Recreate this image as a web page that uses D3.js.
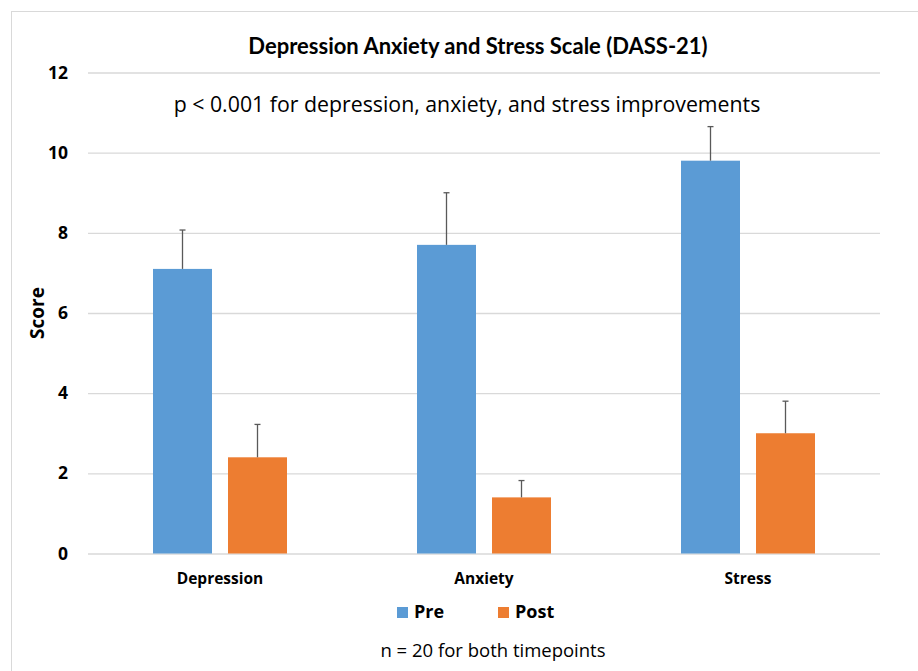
<!DOCTYPE html>
<html><head><meta charset="utf-8">
<script src="https://cdn.jsdelivr.net/npm/d3@7"></script>
<style>body{margin:0;background:#fff}svg{display:block}</style>
</head><body><svg id="c" width="918" height="671"></svg>
<script>
const categories = ["Depression", "Anxiety", "Stress"];
const seriesNames = ["Pre", "Post"];
const preValues = [7.1, 7.7, 9.8];
const postValues = [2.4, 1.4, 3.0];
const preErrors = [0.97, 1.3, 0.85];
const postErrors = [0.82, 0.42, 0.8];
const yTicks = [0, 2, 4, 6, 8, 10, 12];
const colors = ["#5B9BD5", "#ED7D31"];

const svg = d3.select("#c");
svg.append("rect").attr("x", 11.5).attr("y", 11.5).attr("width", 930).attr("height", 700)
  .attr("fill", "#fff").attr("stroke", "#d9d9d9");

const m = {l: 88, r: 880, t: 72.5, b: 553.5};
const y = d3.scaleLinear().domain([0, 12]).range([m.b, m.t]);
const x0 = d3.scaleBand().domain(categories).range([m.l, m.r]).paddingInner(0).paddingOuter(0);
const x1 = d3.scaleBand().domain(seriesNames).range([65, 264 - 65]).paddingInner(16/75);

const yAxis = d3.axisLeft(y).tickValues(yTicks).tickSize(-(m.r - m.l)).tickFormat(d3.format("d")).tickPadding(20);
const ga = svg.append("g").attr("transform", `translate(${m.l},0)`).call(yAxis);
ga.select(".domain").remove();
ga.selectAll(".tick line").attr("stroke", "#d9d9d9").attr("stroke-width", 1.3);
ga.selectAll(".tick text").attr("font-family", "'Open Sans', sans-serif").attr("font-weight", "bold")
  .attr("font-size", 17.5).attr("fill", "#000");

const data = categories.map((c, i) => ({c, vals: [
  {s: "Pre", v: preValues[i], e: preErrors[i]},
  {s: "Post", v: postValues[i], e: postErrors[i]}]}));

const g = svg.selectAll(".cat").data(data).join("g").attr("transform", d => `translate(${x0(d.c)},0)`);
g.selectAll("rect").data(d => d.vals).join("rect")
  .attr("x", d => x1(d.s)).attr("width", x1.bandwidth())
  .attr("y", d => y(d.v)).attr("height", d => y(0) - y(d.v))
  .attr("fill", (d, i) => colors[i]);
g.selectAll("line.err").data(d => d.vals).join("line").attr("class", "err")
  .attr("x1", d => x1(d.s) + x1.bandwidth()/2).attr("x2", d => x1(d.s) + x1.bandwidth()/2)
  .attr("y1", d => y(d.v)).attr("y2", d => y(d.v + d.e))
  .attr("stroke", "#595959").attr("stroke-width", 1.3);
g.selectAll("line.cap").data(d => d.vals).join("line").attr("class", "cap")
  .attr("x1", d => x1(d.s) + x1.bandwidth()/2 - 3).attr("x2", d => x1(d.s) + x1.bandwidth()/2 + 3)
  .attr("y1", d => y(d.v + d.e)).attr("y2", d => y(d.v + d.e))
  .attr("stroke", "#595959").attr("stroke-width", 1.3);

svg.selectAll(".xl").data(categories).join("text")
  .attr("x", d => x0(d) + x0.bandwidth()/2).attr("y", 584)
  .attr("text-anchor", "middle").attr("font-family", "'Open Sans', sans-serif")
  .attr("font-weight", "bold").attr("font-size", 15.5).text(d => d);

svg.append("text").attr("transform", "translate(44,313) rotate(-90)")
  .attr("text-anchor", "middle").attr("font-family", "'Open Sans', sans-serif")
  .attr("font-weight", "bold").attr("font-size", 19).text("Score");

svg.append("text").attr("x", 478).attr("y", 54).attr("text-anchor", "middle")
  .attr("font-family", "'Liberation Sans Narrow', 'Lato', sans-serif").attr("font-weight", "bold")
  .attr("font-size", 22).text("Depression Anxiety and Stress Scale (DASS-21)");

svg.append("text").attr("x", 467).attr("y", 112).attr("text-anchor", "middle")
  .attr("font-family", "'Open Sans', sans-serif").attr("font-size", 21.3)
  .text("p < 0.001 for depression, anxiety, and stress improvements");

const leg = svg.selectAll(".leg").data(seriesNames).join("g")
  .attr("transform", (d, i) => `translate(${397 + i * 101},607)`);
leg.append("rect").attr("width", 11).attr("height", 11).attr("fill", (d, i) => colors[i]);
leg.append("text").attr("x", 17).attr("y", 11).attr("font-family", "'Open Sans', sans-serif")
  .attr("font-weight", "bold").attr("font-size", 18).text(d => d);

svg.append("text").attr("x", 493).attr("y", 657).attr("text-anchor", "middle")
  .attr("font-family", "'Open Sans', sans-serif").attr("font-size", 18.5)
  .text("n = 20 for both timepoints");
</script></body></html>
